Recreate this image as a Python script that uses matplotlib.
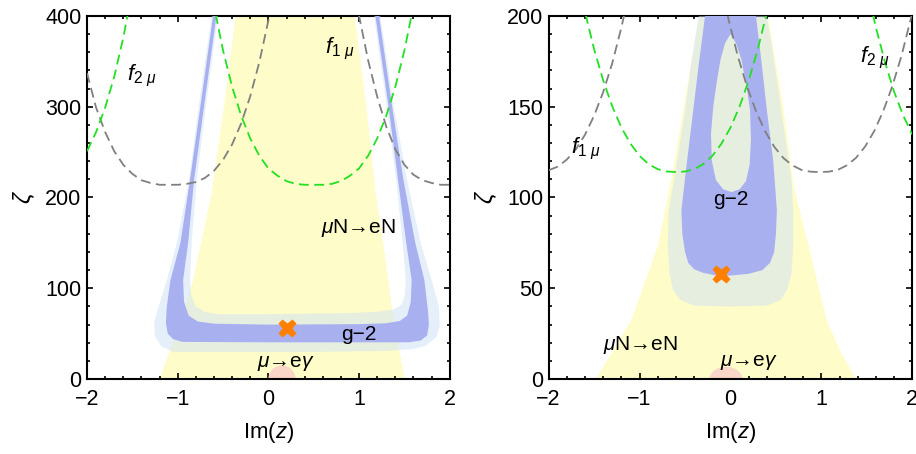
import numpy as np
import matplotlib
matplotlib.use('Agg')
import matplotlib.pyplot as plt
from matplotlib.path import Path
from matplotlib.patches import PathPatch, Ellipse
from matplotlib.ticker import MultipleLocator

plt.rcParams['font.family'] = ['Liberation Sans', 'DejaVu Sans']
plt.rcParams['mathtext.fontset'] = 'custom'
plt.rcParams['mathtext.rm'] = 'Liberation Sans'
plt.rcParams['mathtext.it'] = 'Liberation Sans:italic'

# ---------------- left panel data (Im z, zeta) ----------------
# muN -> eN allowed wedge
yel1_left_x = [-1.2, -1.0, -0.83, -0.72, -0.62, -0.49, -0.36, -0.33]
yel1_left_y = [0, 55, 109, 160, 208, 300, 400, 420]
yel1_right_x = [1.5, 1.36, 1.28, 1.19, 1.08, 0.95, 0.92]
yel1_right_y = [0, 80, 140, 200, 300, 400, 420]

# g-2 band, outer (2 sigma) and inner (1 sigma) boundaries
g2_1_lout_x = [-0.625, -0.625, -0.77, -0.876, -1.01, -1.12, -1.21, -1.26, -1.25, -1.18, -1.05, -0.5, 0.5,
               1.3, 1.6, 1.74, 1.85, 1.89, 1.88, 1.80, 1.68, 1.53, 1.385, 1.235, 1.235]
g2_1_lout_y = [420, 400, 300, 219, 150, 109, 80, 62, 47, 36, 30, 30, 30,
               31, 33, 37, 46, 58, 80, 109, 150, 219, 300, 400, 420]
g2_1_lin_x = [-0.555, -0.555, -0.69, -0.79, -0.845, -0.865, -0.85, -0.80, -0.70, -0.55, 0.0, 0.8,
              1.2, 1.38, 1.47, 1.505, 1.515, 1.48, 1.41, 1.305, 1.165, 1.165]
g2_1_lin_y = [420, 400, 300, 219, 150, 109, 92, 80, 74, 71.5, 71.5, 72.5,
              74, 76.5, 82, 92, 109, 150, 219, 300, 400, 420]
g2_1_bout_x = [-0.61, -0.61, -0.75, -0.865, -0.97, -1.08, -1.12, -1.13, -1.11, -1.05, -0.95, 0.0, 1.0,
               1.55, 1.68, 1.75, 1.77, 1.76, 1.72, 1.62, 1.49, 1.365, 1.22, 1.22]
g2_1_bout_y = [420, 400, 300, 219, 150, 109, 80, 62, 50, 44, 41, 40.5, 40.5,
               40.5, 42.5, 48, 60, 75, 109, 150, 219, 300, 400, 420]
g2_1_bin_x = [-0.573, -0.573, -0.71, -0.82, -0.885, -0.94, -0.93, -0.88, -0.78, -0.6, 0.0, 1.0,
              1.3, 1.45, 1.53, 1.57, 1.58, 1.52, 1.43, 1.325, 1.18, 1.18]
g2_1_bin_y = [420, 400, 300, 219, 150, 109, 85, 70, 63.5, 61, 60, 60.5,
              61.5, 64, 70, 85, 109, 150, 219, 300, 400, 420]

# dashed f curves
f1_a_x = [-2.0, -1.9, -1.8, -1.7, -1.6, -1.5, -1.4, -1.3, -1.2, -1.1, -1.0, -0.9, -0.8, -0.7, -0.6,
          -0.5, -0.4, -0.3, -0.2, -0.1, 0.0, 0.1]
f1_a_y = [337, 299, 272, 251, 236, 226, 219, 216, 214, 214, 214, 215, 217, 221.5, 229.4,
          241.4, 258.5, 281.6, 311.5, 349, 395, 451]
f1_b_x = [0.9, 1.0, 1.1, 1.2, 1.3, 1.4, 1.5, 1.6, 1.7, 1.8, 1.9, 2.0]
f1_b_y = [457, 400, 351, 311, 278, 253, 236, 225, 219, 216, 214, 214]
f2_a_x = [-2.0, -1.9, -1.8, -1.7, -1.6, -1.5]
f2_a_y = [251, 272, 299, 333, 376, 428]
f2_b_x = [-0.7, -0.6, -0.5, -0.4, -0.3, -0.2, -0.1, 0.0, 0.1, 0.2, 0.3, 0.4, 0.5,
          0.6, 0.7, 0.8, 0.9, 1.0, 1.1, 1.2, 1.3, 1.4, 1.5, 1.6, 1.7]
f2_b_y = [470, 411, 362, 322, 290, 265, 246, 232, 224, 218, 215, 214, 214,
          214, 215, 218, 224, 232, 246, 265, 290, 322, 362, 411, 470]

best1 = (0.2, 56)
meg1 = (0.15, 0, 0.3, 30)   # x, y, width, height of mu->e gamma blob

# ---------------- right panel data ----------------
yel2_left_x = [-1.48, -1.30, -1.09, -0.8, -0.65, -0.52, -0.34, -0.32]
yel2_left_y = [0, 15, 32.5, 73, 110, 148, 200, 210]
yel2_right_x = [1.38, 1.21, 1.06, 0.86, 0.70, 0.58, 0.41, 0.39]
yel2_right_y = [0, 15, 32, 73, 105, 150, 200, 210]

g2_2_lout_x = [-0.38, -0.35, -0.43, -0.50, -0.62, -0.68, -0.69, -0.67, -0.63, -0.55, -0.4, 0.0, 0.4,
               0.55, 0.62, 0.67, 0.69, 0.69, 0.67, 0.56, 0.48, 0.40, 0.42]
g2_2_lout_y = [215, 200, 175, 148, 110, 93, 73, 58, 49, 43.5, 40.5, 40, 40.5,
               43.5, 49, 58, 73, 93, 110, 148, 175, 200, 215]
g2_2_bout_x = [-0.30, -0.28, -0.345, -0.41, -0.49, -0.54, -0.53, -0.50, -0.465, -0.40, -0.3, -0.15, 0.0,
               0.2, 0.35, 0.435, 0.48, 0.50, 0.51, 0.47, 0.40, 0.34, 0.28, 0.30]
g2_2_bout_y = [215, 200, 175, 148, 115, 93, 80, 70, 64, 60.5, 58.5, 57, 57,
               58, 60, 64, 70, 80, 93, 120, 148, 175, 200, 215]
g2_2_hole_x = [0.0, 0.06, 0.12, 0.18, 0.215, 0.225, 0.21, 0.17, 0.1, 0.01, -0.08, -0.16, -0.205,
               -0.215, -0.19, -0.15, -0.11, -0.06]
g2_2_hole_y = [190, 185, 176, 160, 148, 132, 118, 109, 104.5, 103, 104.5, 109.5, 120,
               135, 150, 164, 176, 185]

h1_a_x = [-2.0, -1.9, -1.8, -1.7, -1.6, -1.5, -1.4, -1.3, -1.2, -1.1]
h1_a_y = [115, 117, 120.9, 126.6, 134.6, 145.1, 158.1, 174.1, 193.7, 216]
h1_b_x = [-0.12, -0.02, 0.08, 0.18, 0.28, 0.38, 0.48, 0.58, 0.68, 0.78, 0.88, 0.98,
          1.08, 1.18, 1.28, 1.38, 1.48, 1.58, 1.68, 1.78, 1.88, 1.98, 2.08]
h1_b_y = [220.7, 197.7, 177.9, 161.3, 147.6, 136.5, 128.0, 121.8, 117.7, 115.2, 114.2, 114,
          114.2, 115.2, 117.7, 121.8, 128.0, 136.5, 147.6, 161.3, 177.9, 197.7, 220.7]
h2_a_x = [-1.7, -1.6, -1.5, -1.4, -1.3, -1.2, -1.1, -1.0, -0.9, -0.8, -0.7, -0.6,
          -0.5, -0.4, -0.3, -0.2, -0.1, 0.0, 0.1, 0.2, 0.3, 0.4, 0.5]
h2_a_y = [225.7, 202, 181.6, 164.4, 150.1, 138.5, 129.6, 122.9, 118.3, 115.6, 114.3, 114,
          114.3, 115.6, 118.3, 122.9, 129.6, 138.5, 150.1, 164.4, 181.6, 202, 225.7]
h2_b_x = [1.5, 1.6, 1.7, 1.8, 1.9, 2.0]
h2_b_y = [215.8, 193.5, 174.4, 158.1, 145.1, 134.6]

best2 = (-0.1, 58)
meg2 = (-0.05, 0, 0.36, 13.6)

YELLOW = '#fefcc8'
LIGHT = '#cde1f7'
BLUE = '#a8b0f0'
PINK = '#fad6c8'
GREEN = '#22e022'
GRAY = '#808080'


def signed_area(v):
    x, y = v[:, 0], v[:, 1]
    return 0.5 * np.sum(x * np.roll(y, -1) - np.roll(x, -1) * y)


def region(ax, ox, oy, ix=None, iy=None, **kw):
    outer = np.column_stack([ox, oy])
    parts = [outer]
    if ix is not None:
        inner = np.column_stack([ix, iy])
        if np.sign(signed_area(inner)) == np.sign(signed_area(outer)):
            inner = inner[::-1]
        parts.append(inner)
    verts, codes = [], []
    for p in parts:
        verts.extend(p.tolist())
        verts.append(p[0].tolist())
        codes.extend([Path.MOVETO] + [Path.LINETO] * (len(p) - 1) + [Path.CLOSEPOLY])
    ax.add_patch(PathPatch(Path(verts, codes), lw=0, **kw))


def style_axes(ax, ymax, ymaj, ymin):
    ax.set_xlim(-2, 2)
    ax.set_ylim(0, ymax)
    ax.xaxis.set_major_locator(MultipleLocator(1))
    ax.xaxis.set_minor_locator(MultipleLocator(0.2))
    ax.yaxis.set_major_locator(MultipleLocator(ymaj))
    ax.yaxis.set_minor_locator(MultipleLocator(ymin))
    ax.tick_params(which='both', direction='in', top=True, right=True, width=1.2, labelsize=15.5)
    ax.tick_params(which='major', length=4.5)
    ax.tick_params(which='minor', length=2.3)
    ax.tick_params(axis='x', pad=7)
    ax.tick_params(axis='y', pad=4)
    for s in ax.spines.values():
        s.set_linewidth(1.5)
    ax.set_xlabel('Im($z$)', fontsize=16, labelpad=7)
    ax.set_ylabel(r'$\zeta$', fontsize=17, labelpad=6)


def dashed(ax, x, y, c):
    ax.plot(x, y, color=c, lw=1.3, dashes=(5.5, 3), zorder=5)


fig = plt.figure(figsize=(9.16, 4.54), dpi=100)
ax1 = fig.add_axes([0.095, 0.165, 0.396, 0.800])
ax2 = fig.add_axes([0.599, 0.165, 0.397, 0.800])

# left panel
region(ax1, yel1_left_x + yel1_right_x[::-1], yel1_left_y + yel1_right_y[::-1], fc=YELLOW, zorder=1)
ax1.add_patch(Ellipse(meg1[:2], meg1[2], meg1[3], fc=PINK, lw=0, zorder=2))
region(ax1, g2_1_lout_x, g2_1_lout_y, g2_1_lin_x, g2_1_lin_y, fc=LIGHT, alpha=0.5, zorder=3)
region(ax1, g2_1_bout_x, g2_1_bout_y, g2_1_bin_x, g2_1_bin_y, fc=BLUE, zorder=4)
dashed(ax1, f1_a_x, f1_a_y, GRAY)
dashed(ax1, f1_b_x, f1_b_y, GRAY)
dashed(ax1, f2_a_x, f2_a_y, GREEN)
dashed(ax1, f2_b_x, f2_b_y, GREEN)
ax1.plot(*best1, marker='X', ms=13, color='#ff8000', mec='none', zorder=7)
ax1.text(0.79, 364, r'$f_{1\ \mu}$', fontsize=16, ha='center', va='center', zorder=8)
ax1.text(-1.40, 334, r'$f_{2\ \mu}$', fontsize=16, ha='center', va='center', zorder=8)
ax1.text(0.99, 166, r'$\mu$N→eN', fontsize=15, ha='center', va='center', zorder=8)
ax1.text(1.0, 49, 'g−2', fontsize=15, ha='center', va='center', zorder=8)
ax1.text(0.19, 17, r'$\mu$→e$\gamma$', fontsize=15, ha='center', va='center', zorder=8)
style_axes(ax1, 400, 100, 20)

# right panel
region(ax2, yel2_left_x + yel2_right_x[::-1], yel2_left_y + yel2_right_y[::-1], fc=YELLOW, zorder=1)
ax2.add_patch(Ellipse(meg2[:2], meg2[2], meg2[3], fc=PINK, lw=0, zorder=2))
region(ax2, g2_2_lout_x, g2_2_lout_y, fc=LIGHT, alpha=0.5, zorder=3)
region(ax2, g2_2_bout_x, g2_2_bout_y, g2_2_hole_x, g2_2_hole_y, fc=BLUE, zorder=4)
dashed(ax2, h1_a_x, h1_a_y, GRAY)
dashed(ax2, h1_b_x, h1_b_y, GRAY)
dashed(ax2, h2_a_x, h2_a_y, GREEN)
dashed(ax2, h2_b_x, h2_b_y, GREEN)
ax2.plot(*best2, marker='X', ms=13, color='#ff8000', mec='none', zorder=7)
ax2.text(-1.59, 127, r'$f_{1\ \mu}$', fontsize=16, ha='center', va='center', zorder=8)
ax2.text(1.59, 177, r'$f_{2\ \mu}$', fontsize=16, ha='center', va='center', zorder=8)
ax2.text(0.0, 99, 'g−2', fontsize=15, ha='center', va='center', zorder=8)
ax2.text(-0.99, 19, r'$\mu$N→eN', fontsize=15, ha='center', va='center', zorder=8)
ax2.text(0.20, 9, r'$\mu$→e$\gamma$', fontsize=15, ha='center', va='center', zorder=8)
style_axes(ax2, 200, 50, 10)

fig.savefig('out.png', dpi=100)
